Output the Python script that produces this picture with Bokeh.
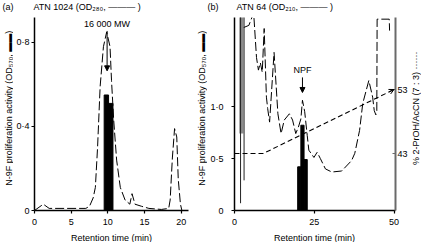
import math
from bokeh.plotting import figure
from bokeh.layouts import row, column
from bokeh.models import (Label, Arrow, NormalHead, OpenHead, FixedTicker,
                          CustomJSTickFormatter, LinearAxis, Range1d)
from bokeh.embed import file_html
from bokeh.resources import INLINE

FONT = "Liberation Sans"
FS = "9px"

# ---------------- Panel (a): ATN 1024 ----------------
a_time = [0.0, 1.2, 2.0, 7.0, 7.5, 8.0, 8.3, 8.6, 8.95, 9.4, 9.84, 10.3, 10.5, 10.8,
          11.2, 11.7, 12.35, 13.0, 13.3, 13.7, 14.6, 15.6, 17.3, 18.3, 18.5, 18.8,
          19.1, 19.4, 19.6, 19.9, 20.1, 20.5]
a_od280 = [0.0, 0.03, 0.01, 0.01, 0.02, 0.06, 0.11, 0.30, 0.59, 0.78, 0.85, 0.78, 0.62,
           0.43, 0.24, 0.11, 0.05, 0.03, 0.08, 0.03, 0.02, 0.01, 0.005, 0.01, 0.05,
           0.25, 0.39, 0.35, 0.15, 0.03, 0.0, 0.0]
a_bar_time = [9.8, 10.4]
a_bar_od570 = [0.55, 0.51]
a_xticks = [0, 5, 10, 15, 20]
a_yticks = [0, 0.4, 0.8]
a_peak_text = "16 000 MW"
a_peak_time = 9.9

# ---------------- Panel (b): ATN 64 ----------------
b_time = [2.9, 4.5, 6.0, 6.9, 7.5, 8.1, 8.7, 9.3, 10.0, 10.4, 11.0, 12.4, 13.6, 14.6,
          15.6, 17.2, 18.2, 19.2, 20.0, 20.8, 21.3, 22.0, 22.8, 23.3, 24.9, 25.9,
          26.9, 28.5, 30.5, 33.6, 36.7, 37.7, 39.2, 40.2, 42.1, 43.3, 43.8, 44.3,
          44.6, 44.7, 48.5, 48.6]
b_od210 = [1.76, 1.78, 1.90, 1.47, 1.35, 1.42, 1.33, 1.75, 1.09, 0.98, 0.85, 1.52,
           0.93, 0.74, 0.87, 0.93, 0.87, 0.74, 0.80, 0.88, 1.06, 0.95, 0.72, 0.58,
           0.51, 0.56, 0.50, 0.40, 0.37, 0.38, 0.48, 0.55, 0.77, 1.03, 1.25, 1.09,
           0.96, 0.92, 0.96, 1.84, 1.84, 1.73]
b_spike_time = [1.9, 3.0]
b_spike_low = [0.07, 0.29]
b_spike_high = [2.5, 2.5]
b_band_time = [1.5, 2.8]
b_band_od = [0.74, 2.5]
b_bar_time = [20.3, 21.3, 22.3]
b_bar_od570 = [0.42, 0.82, 0.49]
b_grad_time = [0, 9.0, 50.0]
b_grad_pct = [43, 43, 53]
b_xticks = [0, 25, 50]
b_yticks = [0, 0.5, 1.0]
b_pct_ticks = [43, 53]
b_peak_text = "NPF"
b_peak_time = 21.3

# ---------------- texts ----------------
TITLE_A = ("(a)", "ATN 1024 (OD\u2082\u2088\u2080, \u2014\u2014\u2014 )")
TITLE_B = ("(b)", "ATN 64 (OD\u2082\u2081\u2080, \u2014\u2014\u2014 )")
YLABEL = "N-9F proliferation activity (OD\u2085\u2087\u2080, \u25ac\u25ac)"
RLABEL = "% 2-PrOH/AcCN (7 : 3) \u00b7\u00b7\u00b7\u00b7\u00b7\u00b7"
XLABEL = "Retention time (min)"

dot_fmt = CustomJSTickFormatter(
    code="return tick == 0 ? '0' : tick.toFixed(1).replace('.', '\u00b7');")

# layout geometry (pixels)
W_TOTAL = 421
H_TITLE, H_MAIN, H_XLAB = 12, 219, 11
TOP, BOT = 5, 21


def make_fig(width, height, xr, yr, bl=0, br=0, top=0, bot=0):
    p = figure(width=width, height=height, x_range=Range1d(*xr), y_range=Range1d(*yr),
               output_backend="svg", toolbar_location=None,
               x_axis_type=None, y_axis_type=None,
               min_border_left=bl, min_border_right=br,
               min_border_top=top, min_border_bottom=bot)
    p.outline_line_color = None
    p.background_fill_color = "white"
    p.border_fill_color = "white"
    return p


def strip(width, height):
    return make_fig(width, height, (0, width), (0, height))


def style_axis(ax, ticks, tin=0, tout=3, color="black", lw=1.3, standoff=2):
    ax.ticker = FixedTicker(ticks=ticks)
    ax.axis_line_width = lw
    ax.axis_line_color = color
    ax.major_tick_line_width = 1.2
    ax.major_tick_line_color = color
    ax.major_tick_in = tin
    ax.major_tick_out = tout
    ax.minor_tick_line_color = None
    ax.major_label_text_font = FONT
    ax.major_label_text_font_size = FS
    ax.major_label_text_color = "black"
    ax.major_label_standoff = standoff


def add_text(p, x, y, text, align="center", angle=0.0):
    p.add_layout(Label(x=x, y=y, text=text, angle=angle, text_align=align,
                       text_baseline="middle", text_font=FONT, text_font_size=FS,
                       text_color="black"))


# ---------------- panel (a) ----------------
pa = make_fig(181, H_MAIN, (0, 21.0), (0, 0.919), bl=19, br=6, top=TOP, bot=BOT)
ax = LinearAxis(); style_axis(ax, a_xticks, standoff=5); pa.add_layout(ax, "below")
ay = LinearAxis(formatter=dot_fmt); style_axis(ay, a_yticks, lw=1.5, standoff=2)
pa.add_layout(ay, "left")
pa.vbar(x=a_bar_time, top=a_bar_od570, width=0.6, fill_color="black", line_color="black")
pa.line(a_time, a_od280, line_color="black", line_width=1, line_dash="9 3")
add_text(pa, a_peak_time, 0.89, a_peak_text)
pa.add_layout(Arrow(end=NormalHead(size=5, fill_color="black", line_color="black"),
                    x_start=a_peak_time, y_start=0.855, x_end=a_peak_time, y_end=0.665,
                    line_width=1))

# ---------------- panel (b) ----------------
pb = make_fig(203, H_MAIN, (0, 50.46), (0, 1.856), bl=25, br=14, top=TOP, bot=BOT)
pb.extra_y_ranges = {"pct": Range1d(34.1, 64.25)}
bx = LinearAxis(); style_axis(bx, b_xticks, standoff=5); pb.add_layout(bx, "below")
by = LinearAxis(formatter=dot_fmt); style_axis(by, b_yticks, lw=1.5, standoff=8)
pb.add_layout(by, "left")
rax = LinearAxis(y_range_name="pct")
style_axis(rax, b_pct_ticks, tin=3, tout=0, color="#6a6a6a", lw=2, standoff=2)
pb.add_layout(rax, "right")

pb.quad(left=b_band_time[0], right=b_band_time[1], bottom=b_band_od[0], top=b_band_od[1],
        fill_color="#8c8c8c", line_color=None)
pb.segment(x0=b_spike_time, y0=b_spike_low, x1=b_spike_time, y1=b_spike_high,
           line_color="#222222", line_width=1)
pb.vbar(x=b_bar_time, top=b_bar_od570, width=1.0, fill_color="black", line_color="black")
pb.line(b_time, b_od210, line_color="black", line_width=1, line_dash="9 3")
pb.line(b_grad_time, b_grad_pct, y_range_name="pct", line_color="black",
        line_width=1.1, line_dash="5 3")
slope = (b_grad_pct[-1] - b_grad_pct[-2]) / (b_grad_time[-1] - b_grad_time[-2])
pb.add_layout(Arrow(end=OpenHead(size=5, line_color="black", line_width=1),
                    x_start=b_grad_time[-1] - 1.5, y_start=b_grad_pct[-1] - 1.5 * slope,
                    x_end=b_grad_time[-1], y_end=b_grad_pct[-1], y_range_name="pct",
                    line_color="black", line_width=1))
add_text(pb, b_peak_time, 1.35, b_peak_text)
pb.add_layout(Arrow(end=NormalHead(size=5, fill_color="black", line_color="black"),
                    x_start=b_peak_time, y_start=1.28, x_end=b_peak_time, y_end=1.135,
                    line_width=1))

# ---------------- text strips ----------------
ymid = H_MAIN - (115 - H_TITLE)          # vertical centre of the rotated labels
pla = strip(13, H_MAIN); add_text(pla, 8.5, ymid, YLABEL, angle=math.pi / 2)
plb = strip(13, H_MAIN); add_text(plb, 7.0, ymid, YLABEL, angle=math.pi / 2)
pr = strip(11, H_MAIN); add_text(pr, 5.0, ymid, RLABEL, angle=math.pi / 2)

pt = strip(W_TOTAL, H_TITLE)
add_text(pt, 2, 6, TITLE_A[0], align="left")
add_text(pt, 33, 6, TITLE_A[1], align="left")
add_text(pt, 207, 6, TITLE_B[0], align="left")
add_text(pt, 236, 6, TITLE_B[1], align="left")

px = strip(W_TOTAL, H_XLAB)
add_text(px, 111, 5.5, XLABEL)
add_text(px, 314, 5.5, XLABEL)

layout = column(pt, row(pla, pa, plb, pb, pr), px)
open("out.html", "w").write(file_html(layout, INLINE))
